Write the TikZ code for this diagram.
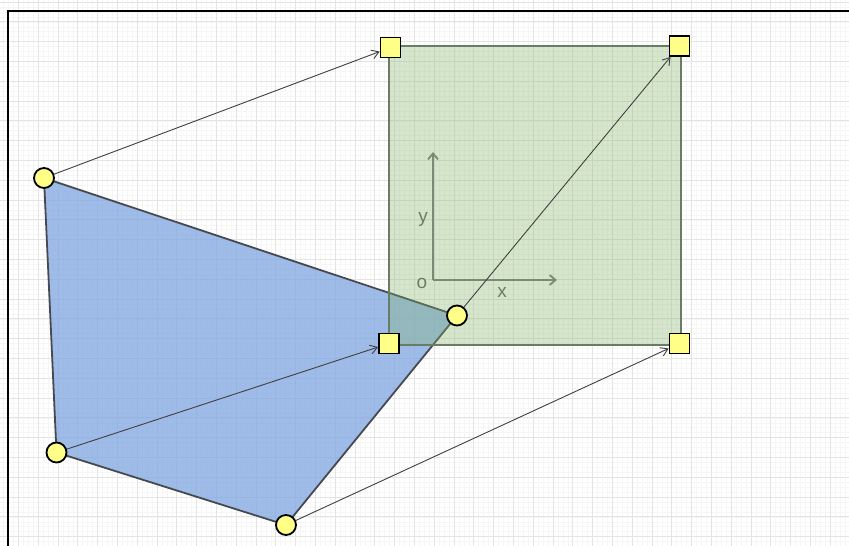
\documentclass[tikz,border=0pt]{standalone}
\usepackage{fontspec}
\setmainfont{Liberation Sans}
\usetikzlibrary{arrows.meta}
\definecolor{minorgrid}{RGB}{246,246,246}
\definecolor{majorgrid}{RGB}{228,228,228}
\definecolor{polyfill}{RGB}{126,166,224}
\definecolor{polyedge}{RGB}{70,74,80}
\definecolor{rectfill}{RGB}{130,179,102}
\definecolor{rectedge}{RGB}{105,125,100}
\definecolor{axiscol}{RGB}{122,138,118}
\definecolor{markfill}{RGB}{255,255,136}
\tikzset{
  markcirc/.style={circle,draw=black,fill=markfill,line width=1.8pt,minimum size=20pt,inner sep=0pt},
  marksq/.style={rectangle,draw=black,fill=markfill,line width=1.8pt,minimum size=20pt,inner sep=0pt},
  arr/.style={draw=black!75,line width=0.9pt,-{Straight Barb[length=7pt,width=9pt]}},
  axisline/.style={draw=axiscol,line width=1.8pt,-{Straight Barb[length=6pt,width=10pt]}},
  axislabel/.style={text=axiscol!90!black,font=\fontsize{19}{19}\selectfont,inner sep=0pt},
}
\begin{document}
\begin{tikzpicture}[x=1pt,y=-1pt]
\useasboundingbox (0,0) rectangle (849,546);
\fill[white] (0,0) rectangle (849,546);
% grid
\foreach \i in {0,...,171} {
  \draw[minorgrid,line width=0.5pt] (3.45+4.95*\i,0) -- (3.45+4.95*\i,546);
}
\foreach \j in {0,...,111} {
  \draw[minorgrid,line width=0.5pt] (0,2.0+4.95*\j) -- (849,2.0+4.95*\j);
}
\foreach \i in {0,...,43} {
  \draw[majorgrid,line width=0.8pt] (-1.5+19.8*\i,0) -- (-1.5+19.8*\i,546);
}
\foreach \j in {0,...,28} {
  \draw[majorgrid,line width=0.8pt] (0,1.9+19.8*\j) -- (849,1.9+19.8*\j);
}
% frame
\draw[black,line width=2.2pt] (8,547) -- (8,11) -- (850,11);
% positions
\coordinate (p1) at (44,178);
\coordinate (p2) at (457,315.5);
\coordinate (p3) at (286,525);
\coordinate (p4) at (56.5,452.5);
% blue polygon
\filldraw[fill=polyfill,fill opacity=0.75,draw=polyedge,line width=1.8pt,line join=round]
  (p1) -- (p2) -- (p3) -- (p4) -- cycle;
% green rectangle
\fill[rectfill,opacity=0.32] (389,46) rectangle (681,345);
\draw[rectedge,line width=1.5pt] (389,46) rectangle (681,345);
% axes
\coordinate (o) at (433,280);
\coordinate (ytip) at (433,152);
\coordinate (xtip) at (557,280);
\draw[axisline] (o) -- (ytip);
\draw[axisline] (o) -- (xtip);
\node[axislabel] (ylab) at (423,219) {y};
\node[axislabel] (olab) at (422,283) {o};
\node[axislabel] (xlab) at (502,292) {x};
% markers
\node[markcirc] (c1) at (p1) {};
\node[markcirc] (c2) at (p2) {};
\node[markcirc] (c3) at (p3) {};
\node[markcirc] (c4) at (p4) {};
\node[marksq] (s1) at (390.5,47.5) {};
\node[marksq] (s2) at (679.5,46) {};
\node[marksq] (s3) at (389,343.5) {};
\node[marksq] (s4) at (679.5,343.5) {};
% arrows
\draw[arr] (c1) -- (s1);
\draw[arr] (c2) -- (s2);
\draw[arr] (c4) -- (s3);
\draw[arr] (c3) -- (s4);
\end{tikzpicture}
\end{document}
